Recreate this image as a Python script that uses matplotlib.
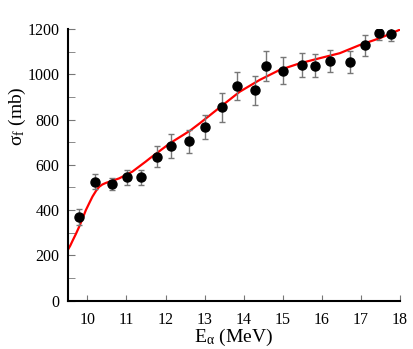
import matplotlib
matplotlib.use("Agg")
import matplotlib.pyplot as plt
import numpy as np

serif = 'Liberation Serif'
plt.rcParams['mathtext.fontset'] = 'custom'
plt.rcParams['mathtext.rm'] = serif
plt.rcParams['mathtext.it'] = serif + ':italic'

# Experimental data
energy = [9.78, 10.19, 10.62, 11.01, 11.38, 11.79, 12.15, 12.59, 13.02, 13.45, 13.84,
          14.28, 14.58, 15.0, 15.5, 15.82, 16.21, 16.71, 17.1, 17.46, 17.78]
sigma = [371, 526, 515, 545, 545, 636, 683, 704, 767, 854, 948,
         929, 1037, 1016, 1042, 1038, 1058, 1054, 1128, 1181, 1178]
sigma_err = [35, 33, 28, 33, 33, 45, 52, 50, 52, 64, 62,
             64, 67, 59, 54, 51, 48, 49, 46, 29, 31]

# Theoretical curve
curve_e = [9.5, 9.56, 9.62, 9.70, 9.79, 9.88, 9.96, 10.05, 10.13, 10.22, 10.30, 10.38,
           10.47, 10.64, 10.81, 10.98, 11.15, 11.32, 11.49, 11.6, 12.11, 12.62, 12.88,
           13.45, 13.9, 14.41, 14.92, 15.43, 15.95, 16.46, 16.97, 17.48, 18.0]
curve_s = [225, 243, 265, 293, 327, 365, 400, 432, 460, 485, 503, 513,
           520, 530, 540, 555, 570, 592, 614, 629, 695, 750, 784,
           862, 923, 975, 1019, 1048, 1071, 1093, 1129, 1159, 1197]

fig = plt.figure(figsize=(4.14, 3.49), dpi=100)
ax = fig.add_axes([0.164, 0.1384, 0.802, 0.7786])

ax.plot(curve_e, curve_s, color='#ff0000', lw=1.6, zorder=2)
ax.errorbar(energy, sigma, yerr=sigma_err, fmt='o', color='black', ms=6.5,
            ecolor='#777777', elinewidth=1.0, capsize=2.5, capthick=1.0, zorder=3)

ax.set_xlim(9.5, 18)
ax.set_ylim(0, 1200)
for s in ['top', 'right']:
    ax.spines[s].set_visible(False)
for s in ['left', 'bottom']:
    ax.spines[s].set_linewidth(1.5)

ax.set_xticks(np.arange(10, 19, 1))
ax.set_xticks([10, 15], minor=True)
ax.set_yticks(np.arange(0, 1201, 200))
ax.set_yticks(np.arange(100, 1200, 200), minor=True)

ax.tick_params(axis='x', which='major', direction='in', length=4, color='#777777', pad=8)
ax.tick_params(axis='x', which='minor', direction='in', length=6, color='#777777')
ax.tick_params(axis='y', which='both', direction='in', length=5, color='#777777', pad=6)
for lbl in ax.get_xticklabels() + ax.get_yticklabels():
    lbl.set_fontfamily(serif)
    lbl.set_fontsize(11.5)

ax.set_xlabel(r'E$_{\mathregular{\alpha}}$ (MeV)', fontfamily=serif, fontsize=14)
ax.xaxis.set_label_coords(0.5, -0.097, transform=ax.transAxes)
ax.xaxis.label.set_verticalalignment('top')
ax.set_ylabel(r'$\mathregular{\sigma_f}$ (mb)', fontfamily=serif, fontsize=14)
ax.yaxis.set_label_coords(-0.12, 0.68)

fig.savefig('out.png', dpi=100)
